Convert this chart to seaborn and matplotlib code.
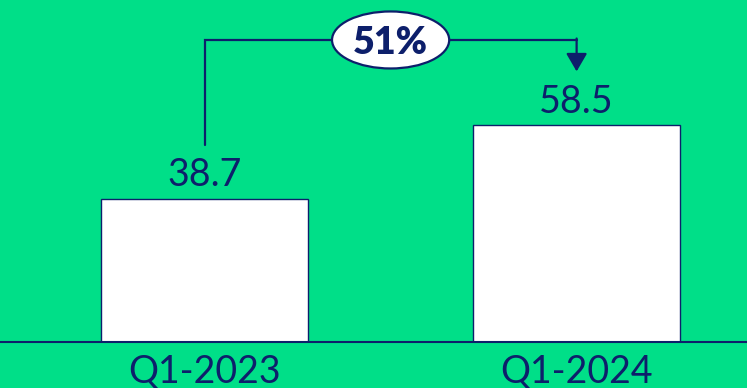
import matplotlib
matplotlib.use("Agg")
import matplotlib.pyplot as plt
from matplotlib.patches import Ellipse
import pandas as pd
import seaborn as sns

# data
quarters = ["Q1-2023", "Q1-2024"]
values = [38.7, 58.5]
growth_label = "51%"

green = "#00DF88"
navy = "#0D1F6B"

sns.set_style("white")
plt.rcParams["font.family"] = ["Lato", "DejaVu Sans"]

df = pd.DataFrame({"quarter": quarters, "value": values})

fig = plt.figure(figsize=(7.47, 3.88), dpi=100, facecolor=green)
ax = fig.add_axes([0, 46 / 388, 1, 342 / 388])
ax.set_facecolor(green)

sns.barplot(data=df, x="quarter", y="value", color="white", width=0.556,
            edgecolor=navy, linewidth=1, saturation=1, ax=ax, zorder=2)

ax.set_xlim(-0.55, 1.458)
ax.set_ylim(0, 92.4)
ax.set_xlabel("")
ax.set_ylabel("")
ax.set_yticks([])
ax.tick_params(axis="x", length=0, pad=8, labelsize=27, labelcolor=navy)
for s in ["top", "left", "right"]:
    ax.spines[s].set_visible(False)
ax.spines["bottom"].set_color(navy)
ax.spines["bottom"].set_linewidth(1.5)

# value labels
for i, v in enumerate(values):
    ax.annotate(f"{v:.1f}", (i, v), xytext=(0, 9), textcoords="offset points",
                ha="center", va="baseline", fontsize=27, color=navy)

# growth bracket
top = 81.6
gap = 14.6
ax.plot([0, 0, 1], [values[0] + gap, top, top], color=navy, lw=1.6,
        solid_joinstyle="miter", zorder=3)
ax.annotate("", xy=(1, values[1] + gap), xytext=(1, top + 0.4),
            arrowprops=dict(arrowstyle="-|>,head_length=0.55,head_width=0.32",
                            color=navy, lw=1.6, mutation_scale=20,
                            shrinkA=0, shrinkB=0), zorder=3)
ax.add_patch(Ellipse((0.5, top), 0.315, 15.4, facecolor="white",
                     edgecolor=navy, lw=1.6, zorder=4))
ax.text(0.5, top, growth_label, ha="center", va="center_baseline",
        fontsize=27, fontweight="heavy", color=navy, zorder=5)

fig.savefig("out.png", dpi=100, facecolor=green)
